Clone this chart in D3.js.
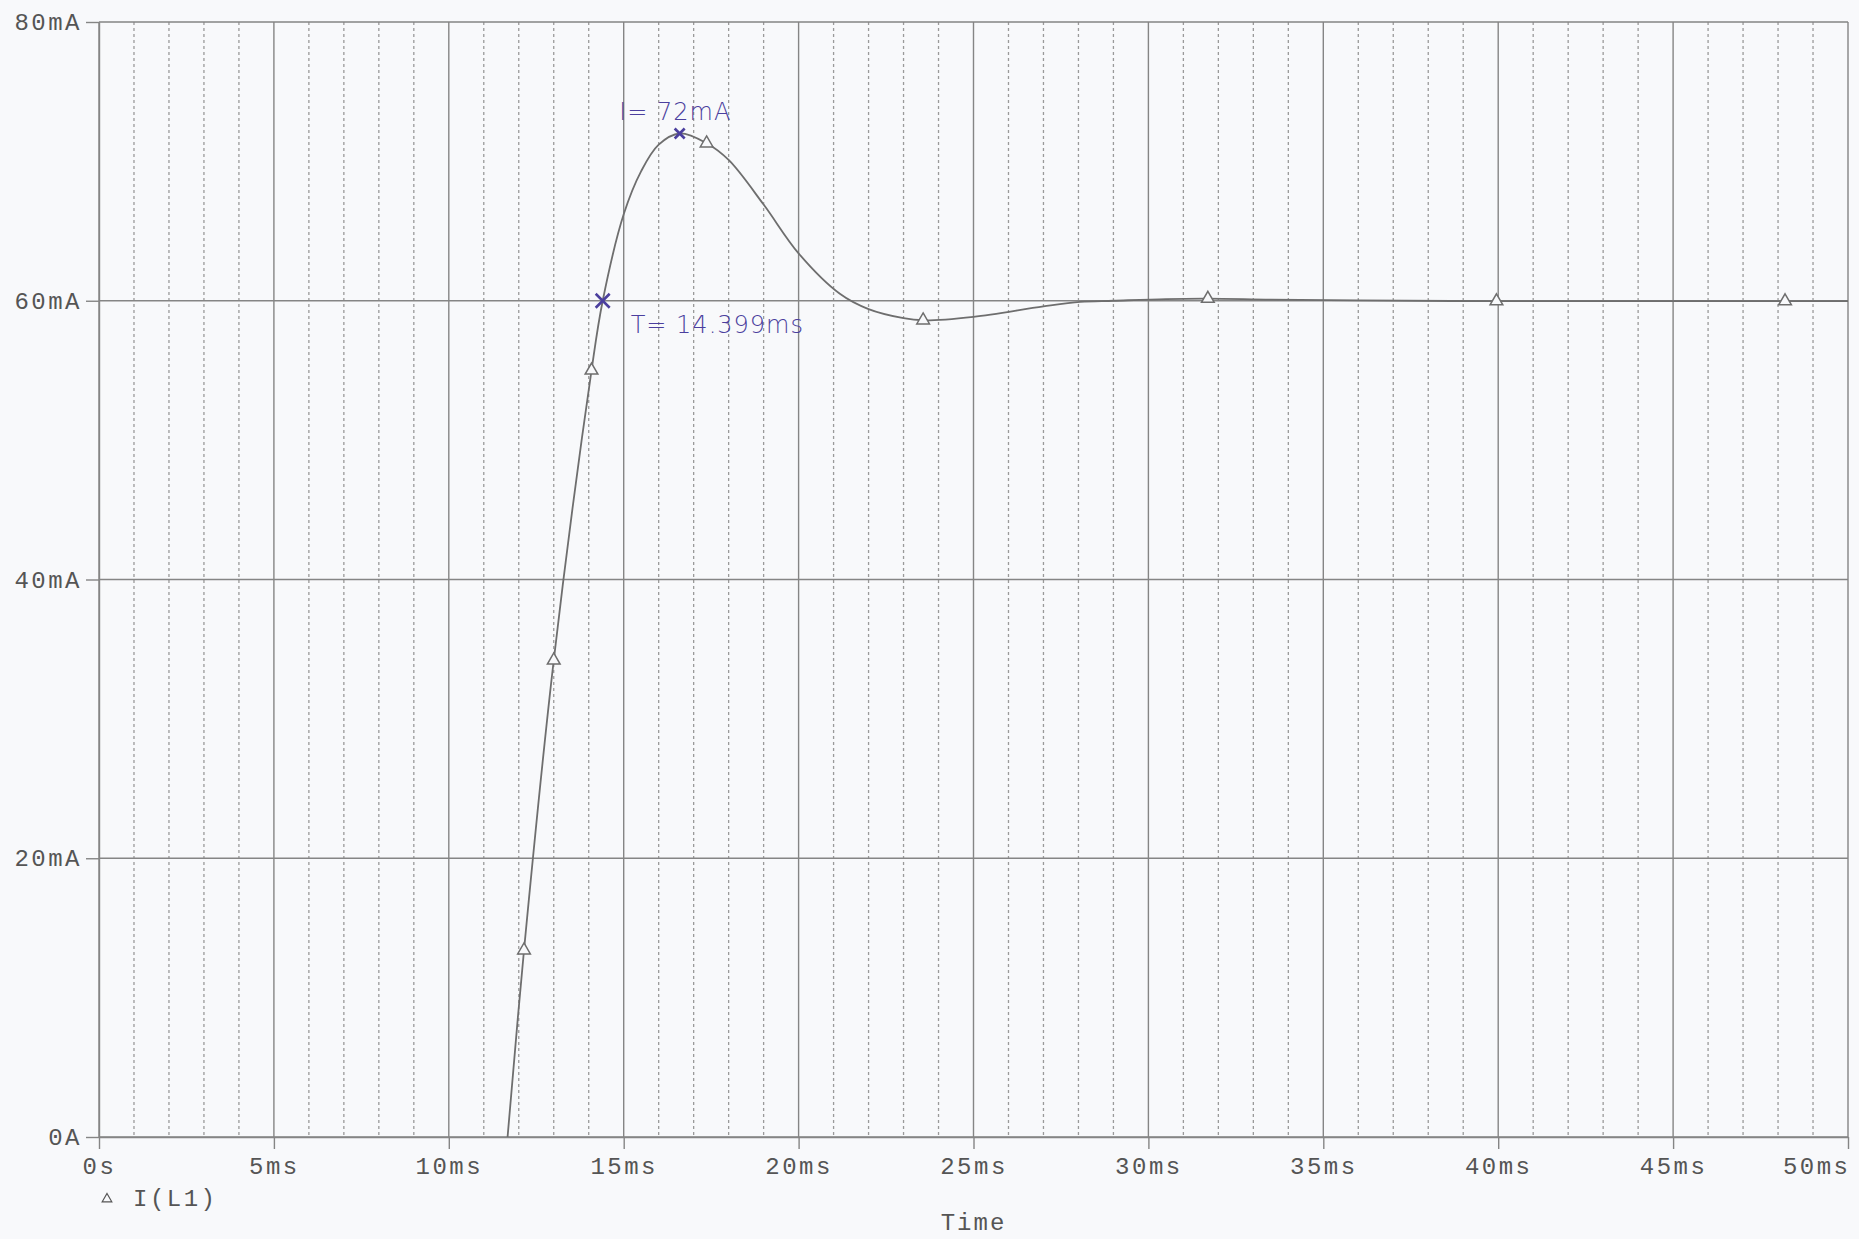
<!DOCTYPE html>
<html>
<head>
<meta charset="utf-8">
<script src="https://cdn.jsdelivr.net/npm/d3@7"></script>
<style>
  html, body { margin: 0; padding: 0; background: #f8f9fb; }
  svg { display: block; }
</style>
</head>
<body>
<svg id="chart" width="1859" height="1239"></svg>
<script>
// ---- data ----
const timeMs = [11.68, 12.15, 13.0, 14.08, 14.4, 15.0, 15.5, 16.0, 16.6, 17.37, 18.0, 19.0, 20.0, 21.18, 22.0, 23.0, 23.56, 25.0, 27.0, 28.05, 29.0, 30.5, 31.7, 33.5, 36.0, 39.95, 44.0, 48.2, 50.0];
const currentMA = [0, 13.4, 34.2, 55.0, 60.0, 66.2, 69.3, 71.2, 72.0, 71.3, 70.1, 66.9, 63.4, 60.5, 59.4, 58.75, 58.6, 58.85, 59.6, 59.92, 60.0, 60.12, 60.15, 60.08, 60.02, 59.97, 59.97, 59.97, 59.97];
const markerTimeMs = [12.15, 13.0, 14.08, 17.37, 23.56, 31.7, 39.95, 48.2];
const markerMA = [13.4, 34.2, 55.0, 71.3, 58.6, 60.15, 59.97, 59.97];
const xTicks = [0, 5, 10, 15, 20, 25, 30, 35, 40, 45, 50];
const xTickLabels = ["0s", "5ms", "10ms", "15ms", "20ms", "25ms", "30ms", "35ms", "40ms", "45ms", "50ms"];
const yTicks = [0, 20, 40, 60, 80];
const yTickLabels = ["0A", "20mA", "40mA", "60mA", "80mA"];
const minorXTicks = d3.range(0, 51).filter(d => d % 5 !== 0);
const seriesName = "I(L1)";
const xTitle = "Time";
const annotMarkTime = [14.399, 16.6];
const annotMarkMA = [60, 72];
const annotTexts = ["I= 72mA", "T= 14.399ms"];
const annotTextTime = [14.87, 15.2];
const annotTextMA = [73.0, 57.7];

// ---- layout ----
const svg = d3.select("#chart");
const M = { left: 99, right: 1848, top: 22, bottom: 1137 };
const x = d3.scaleLinear().domain([0, 50]).range([M.left, M.right]);
const y = d3.scaleLinear().domain([0, 80]).range([M.bottom, M.top]);

const gridCol = "#858585", dotCol = "#9a9a9a", textCol = "#555", inkCol = "#4b3f9e";
const monoFont = "'Liberation Mono', 'DejaVu Sans Mono', monospace";

// minor dotted verticals
svg.append("g").selectAll("line").data(minorXTicks).join("line")
  .attr("x1", d => x(d)).attr("x2", d => x(d))
  .attr("y1", y(80)).attr("y2", y(0))
  .attr("stroke", dotCol).attr("stroke-width", 1.3)
  .attr("stroke-dasharray", "3,3");

// major verticals
svg.append("g").selectAll("line").data(xTicks).join("line")
  .attr("x1", d => x(d)).attr("x2", d => x(d))
  .attr("y1", y(80)).attr("y2", y(0))
  .attr("stroke", gridCol).attr("stroke-width", 1.4);

// major horizontals
svg.append("g").selectAll("line").data(yTicks).join("line")
  .attr("x1", x(0)).attr("x2", x(50))
  .attr("y1", d => y(d)).attr("y2", d => y(d))
  .attr("stroke", gridCol).attr("stroke-width", 1.4);

// axes
const xAxis = d3.axisBottom(x).tickValues(xTicks)
  .tickFormat((d, i) => xTickLabels[i]).tickSize(12).tickSizeOuter(0).tickPadding(8);
const gx = svg.append("g").attr("transform", `translate(0,${M.bottom})`).call(xAxis);
const yAxis = d3.axisLeft(y).tickValues(yTicks)
  .tickFormat((d, i) => yTickLabels[i]).tickSize(13).tickSizeOuter(0).tickPadding(4);
const gy = svg.append("g").attr("transform", `translate(${M.left},0)`).call(yAxis);
[gx, gy].forEach(g => {
  g.select(".domain").attr("stroke", gridCol).attr("stroke-width", 1.4);
  g.selectAll(".tick line").attr("stroke", gridCol).attr("stroke-width", 1.4);
  g.selectAll(".tick text").attr("fill", textCol)
    .style("font-family", monoFont).style("font-size", "24px")
    .style("letter-spacing", "2.5px");
});
// last x label sits left of its tick so it stays on the page
gx.selectAll(".tick text").filter(d => d === 50)
  .attr("text-anchor", "end").attr("dx", "2");

// curve
const pts = timeMs.map((t, i) => [t, currentMA[i]]);
svg.append("clipPath").attr("id", "plotclip").append("rect")
  .attr("x", M.left).attr("y", M.top).attr("width", M.right - M.left).attr("height", M.bottom - M.top);
const line = d3.line().x(d => x(d[0])).y(d => y(d[1])).curve(d3.curveCatmullRom.alpha(0.5));
svg.append("path").datum(pts)
  .attr("clip-path", "url(#plotclip)")
  .attr("d", line).attr("fill", "none")
  .attr("stroke", "#6e6e6e").attr("stroke-width", 1.8);

// triangle markers
const tri = d3.symbol().type(d3.symbolTriangle).size(70);
svg.append("g").selectAll("path").data(markerTimeMs).join("path")
  .attr("d", tri)
  .attr("transform", (d, i) => `translate(${x(d)},${y(markerMA[i])})`)
  .attr("fill", "#f8f9fb").attr("stroke", "#6e6e6e").attr("stroke-width", 1.5);

// legend
svg.append("path").attr("d", d3.symbol().type(d3.symbolTriangle).size(40))
  .attr("transform", `translate(107,${M.bottom + 62})`)
  .attr("fill", "none").attr("stroke", textCol).attr("stroke-width", 1.2);
svg.append("text").attr("x", 133).attr("y", M.bottom + 69)
  .attr("fill", textCol).style("font-family", monoFont).style("font-size", "24px")
  .style("letter-spacing", "2.5px").text(seriesName);

// x title
svg.append("text").attr("x", (M.left + M.right) / 2).attr("y", 1230)
  .attr("text-anchor", "middle").attr("fill", textCol)
  .style("font-family", monoFont).style("font-size", "24px").style("letter-spacing", "2px")
  .text(xTitle);

// handwritten annotations
const ann = svg.append("g");
annotMarkTime.forEach((t, i) => {
  const cx = x(t), cy = y(annotMarkMA[i]), s = i === 0 ? 7 : 5;
  ann.append("path")
    .attr("d", `M${cx - s},${cy - s}L${cx + s},${cy + s}M${cx - s},${cy + s}L${cx + s},${cy - s}`)
    .attr("stroke", inkCol).attr("stroke-width", 2.6).attr("fill", "none");
});
annotTexts.forEach((txt, i) => {
  ann.append("text").attr("x", x(annotTextTime[i])).attr("y", y(annotTextMA[i]))
    .attr("fill", inkCol)
    .style("font-family", "'DejaVu Sans', sans-serif").style("font-size", "24px")
    .style("font-weight", "300").style("letter-spacing", "1px")
    .text(txt);
});
</script>
</body>
</html>
